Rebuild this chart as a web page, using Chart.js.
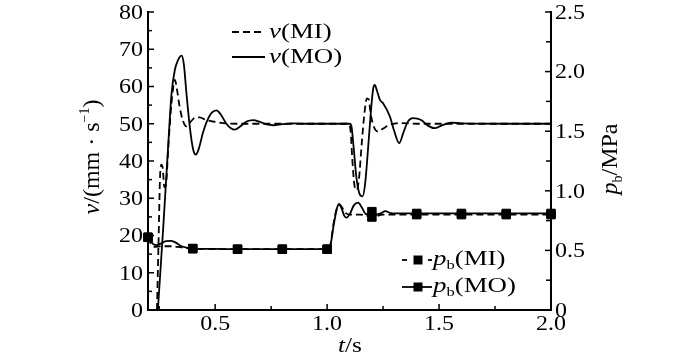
<!DOCTYPE html>
<html><head><meta charset="utf-8">
<script src="https://cdn.jsdelivr.net/npm/chart.js@4/dist/chart.umd.min.js"></script>
<style>html,body{margin:0;padding:0;background:#fff}#wrap{width:700px;height:356px;position:relative}</style>
</head><body><div id="wrap"><canvas id="c"></canvas></div>
<script>
// ---- tick labels ----
const tTicks = [0.5, 1.0, 1.5, 2.0];
const tTickLabels = ['0.5', '1.0', '1.5', '2.0'];
const tMinor = [0.25, 0.75, 1.25, 1.75];
const vTicks = [0, 10, 20, 30, 40, 50, 60, 70, 80];
const vMinor = [5, 15, 25, 35, 45, 55, 65, 75];
const pTicks = [0, 0.5, 1.0, 1.5, 2.0, 2.5];
const pTickLabels = ['0', '0.5', '1.0', '1.5', '2.0', '2.5'];
const pMinor = [0.25, 0.75, 1.25, 1.75, 2.25];

// ---- series: v(MI), v(MO) in mm/s ----
const vMI_t = [0.24,0.247,0.254,0.26,0.266,0.273,0.28,0.29,0.30,0.31,0.32,0.33,0.34,0.355,0.372,0.39,0.41,0.43,0.46,0.50,0.55,0.60,1.095,1.105,1.113,1.122,1.132,1.142,1.155,1.168,1.178,1.186,1.195,1.21,1.228,1.25,1.28,1.32,1.40,2.00];
const vMI   = [0,18,36,39,38,33,33.5,43,52,58.5,61.8,59,55,51,49.3,50.5,51.6,51.7,51,50.5,50.1,50,50,48,40,33.5,32.2,35,45,53.5,56.8,56.5,52.5,49,47.9,48.7,49.7,50.2,50,50];

const vMO_t = [0.244,0.27,0.291,0.305,0.32,0.335,0.35,0.36,0.372,0.388,0.402,0.414,0.428,0.445,0.462,0.485,0.506,0.525,0.55,0.57,0.588,0.61,0.64,0.67,0.70,0.73,0.76,0.80,0.85,0.90,1.00,1.10,1.108,1.118,1.13,1.143,1.158,1.17,1.185,1.198,1.206,1.213,1.222,1.236,1.25,1.28,1.30,1.322,1.34,1.36,1.384,1.42,1.45,1.481,1.51,1.556,1.60,1.80,2.00];
const vMO   = [0,24,45,58,64.5,67.2,68.3,66,58,48.5,43,41.7,43.5,47.5,50.5,53,53.6,52.5,50,48.8,48.4,49.2,50.6,51,50.5,49.8,49.6,49.9,50.1,50,50,50,49.5,44,36,31.5,30.5,34,45,55,59.5,60.4,59,56.4,55.5,52,48,44.8,47.5,50.5,51.5,51,49.5,48.8,49.5,50.3,50.1,50,50];

// ---- series: p_b(MI), p_b(MO) in MPa ----
const pMI_t = [0.2,0.215,0.23,0.26,0.3,0.35,0.4,0.6,0.8,1.0,1.015,1.03,1.045,1.058,1.07,1.085,1.1,1.15,1.2,1.25,1.3,1.4,1.6,1.8,2.0];
const pMI   = [0.61,0.55,0.53,0.535,0.535,0.525,0.515,0.51,0.51,0.51,0.55,0.74,0.86,0.88,0.85,0.81,0.80,0.80,0.78,0.80,0.80,0.80,0.80,0.80,0.80];

const pMO_t = [0.2,0.212,0.225,0.24,0.26,0.28,0.3,0.32,0.35,0.38,0.4,0.5,0.6,0.8,1.0,1.013,1.03,1.045,1.054,1.065,1.077,1.087,1.1,1.12,1.139,1.155,1.17,1.185,1.2,1.22,1.24,1.26,1.28,1.3,1.4,1.6,1.8,2.0];
const pMO   = [0.61,0.58,0.55,0.545,0.56,0.578,0.58,0.57,0.535,0.52,0.515,0.512,0.51,0.51,0.51,0.53,0.72,0.86,0.89,0.85,0.79,0.775,0.80,0.88,0.90,0.86,0.81,0.795,0.825,0.80,0.81,0.83,0.815,0.81,0.81,0.81,0.81,0.81];

const pair = (ts, vs) => ts.map((t, i) => ({x: t, y: vs[i]}));
const isMarker = (ctx) => {
  const r = ctx.raw; if (!r) return 0;
  const k = r.x * 5; return Math.abs(k - Math.round(k)) < 1e-6 ? 6 : 0;
};

const FONT = '"Liberation Serif", "Times New Roman", serif';

function drawRuns(ctx, list, x, y, align, sx) {
  ctx.save();
  ctx.translate(x, y); ctx.scale(sx, 1);
  ctx.textBaseline = 'alphabetic'; ctx.textAlign = 'left';
  const ws = list.map(([s, o]) => { ctx.font = (o.it ? 'italic ' : '') + o.size + 'px ' + FONT; return ctx.measureText(s).width; });
  const total = ws.reduce((a, b) => a + b, 0);
  let cx = align === 'center' ? -total / 2 : align === 'right' ? -total : 0;
  list.forEach(([s, o], i) => {
    ctx.font = (o.it ? 'italic ' : '') + o.size + 'px ' + FONT;
    ctx.fillText(s, cx, o.dy || 0);
    cx += ws[i];
  });
  ctx.restore();
}

const deco = {
  id: 'deco',
  afterDraw(chart) {
    const ctx = chart.ctx, a = chart.chartArea;
    const sx = chart.scales.x, sy = chart.scales.y, sp = chart.scales.y2;
    ctx.save();
    ctx.strokeStyle = '#000'; ctx.fillStyle = '#000'; ctx.lineWidth = 1.5;
    const seg = (x1, y1, x2, y2) => { ctx.beginPath(); ctx.moveTo(x1, y1); ctx.lineTo(x2, y2); ctx.stroke(); };
    vTicks.forEach(v => { const p = sy.getPixelForValue(v); seg(a.left, p, a.left + 6, p); });
    vMinor.forEach(v => { const p = sy.getPixelForValue(v); seg(a.left, p, a.left + 4, p); });
    pTicks.forEach(v => { const p = sp.getPixelForValue(v); seg(a.right, p, a.right - 6, p); });
    pMinor.forEach(v => { const p = sp.getPixelForValue(v); seg(a.right, p, a.right - 5, p); });
    tTicks.forEach(v => { const p = sx.getPixelForValue(v); seg(p, a.bottom, p, a.bottom - 6); });
    tMinor.forEach(v => { const p = sx.getPixelForValue(v); seg(p, a.bottom, p, a.bottom - 4); });

    const TS = 20, TSX = 1.2;
    vTicks.forEach(v => drawRuns(ctx, [[String(v), {size: TS}]], a.left - 5, sy.getPixelForValue(v) + 6.8, 'right', TSX));
    pTicks.forEach((v, i) => drawRuns(ctx, [[pTickLabels[i], {size: TS}]], a.right + 4, sp.getPixelForValue(v) + 6.8, 'left', TSX));
    tTicks.forEach((v, i) => drawRuns(ctx, [[tTickLabels[i], {size: TS}]], sx.getPixelForValue(v), a.bottom + 20, 'center', TSX));

    drawRuns(ctx, [['t', {size: 22, it: true}], ['/s', {size: 22}]], 350, 352, 'center', 1.15);
    ctx.save(); ctx.translate(99, 157); ctx.rotate(-Math.PI / 2);
    drawRuns(ctx, [['v', {size: 24, it: true}], ['/(mm · s', {size: 24}], ['−1', {size: 14, dy: -10}], [')', {size: 24}]], 0, 0, 'center', 1);
    ctx.restore();
    ctx.save(); ctx.translate(617, 159); ctx.rotate(-Math.PI / 2);
    drawRuns(ctx, [['p', {size: 24, it: true}], ['b', {size: 14, dy: 5}], ['/MPa', {size: 24}]], 0, 0, 'center', 1);
    ctx.restore();

    const LS = 21, LSX = 1.28;
    ctx.lineWidth = 1.8;
    ctx.setLineDash([7, 4]); seg(232, 32, 265, 32);
    ctx.setLineDash([]); seg(232, 57, 265, 57);
    drawRuns(ctx, [['v', {size: LS, it: true}], ['(MI)', {size: LS}]], 269, 38, 'left', LSX);
    drawRuns(ctx, [['v', {size: LS, it: true}], ['(MO)', {size: LS}]], 269, 63, 'left', LSX);
    ctx.setLineDash([]);
    seg(402, 260, 407, 260); seg(428, 260, 432, 260);
    ctx.fillRect(413.5, 255.5, 9, 9);
    seg(402, 287, 432, 287);
    ctx.fillRect(413.5, 282.5, 9, 9);
    drawRuns(ctx, [['p', {size: LS, it: true}], ['b', {size: 13, dy: 4}], ['(MI)', {size: LS}]], 433, 265, 'left', LSX);
    drawRuns(ctx, [['p', {size: LS, it: true}], ['b', {size: 13, dy: 4}], ['(MO)', {size: LS}]], 433, 292, 'left', LSX);
    ctx.restore();
  }
};

const fitZero = (s) => { if (s.isHorizontal()) s.height = 0; else s.width = 0; };

function build() {
  new Chart(document.getElementById('c'), {
    type: 'line',
    data: {
      datasets: [
        {label: 'v(MI)', data: pair(vMI_t, vMI), yAxisID: 'y', borderColor: '#000', borderWidth: 1.8, borderDash: [7, 4], pointRadius: 0, cubicInterpolationMode: 'monotone', fill: false},
        {label: 'v(MO)', data: pair(vMO_t, vMO), yAxisID: 'y', borderColor: '#000', borderWidth: 1.8, pointRadius: 0, cubicInterpolationMode: 'monotone', fill: false},
        {label: 'pb(MI)', data: pair(pMI_t, pMI), yAxisID: 'y2', borderColor: '#000', borderWidth: 1.8, borderDash: [7, 4], pointRadius: isMarker, pointStyle: 'rect', pointBackgroundColor: '#000', pointBorderColor: '#000', pointBorderWidth: 1, cubicInterpolationMode: 'monotone', fill: false, clip: false},
        {label: 'pb(MO)', data: pair(pMO_t, pMO), yAxisID: 'y2', borderColor: '#000', borderWidth: 1.8, pointRadius: isMarker, pointStyle: 'rect', pointBackgroundColor: '#000', pointBorderColor: '#000', pointBorderWidth: 1, cubicInterpolationMode: 'monotone', fill: false, clip: false}
      ]
    },
    options: {
      responsive: true, maintainAspectRatio: false, animation: false, devicePixelRatio: 1,
      layout: {padding: {left: 148, right: 149, top: 12, bottom: 46}},
      plugins: {legend: {display: false}, tooltip: {enabled: false}},
      scales: {
        x: {type: 'linear', position: 'bottom', min: 0.2, max: 2.0, grid: {display: false, drawTicks: false}, ticks: {display: false}, border: {display: true, color: '#000', width: 2}, afterFit: fitZero},
        y: {type: 'linear', position: 'left', min: 0, max: 80, grid: {display: false, drawTicks: false}, ticks: {display: false}, border: {display: true, color: '#000', width: 2}, afterFit: fitZero},
        y2: {type: 'linear', position: 'right', min: 0, max: 2.5, grid: {display: false, drawTicks: false}, ticks: {display: false}, border: {display: true, color: '#000', width: 2}, afterFit: fitZero}
      }
    },
    plugins: [deco]
  });
}
Promise.all([
  document.fonts.load('20px "Liberation Serif"'),
  document.fonts.load('italic 20px "Liberation Serif"')
]).then(build, build);
</script></body></html>
